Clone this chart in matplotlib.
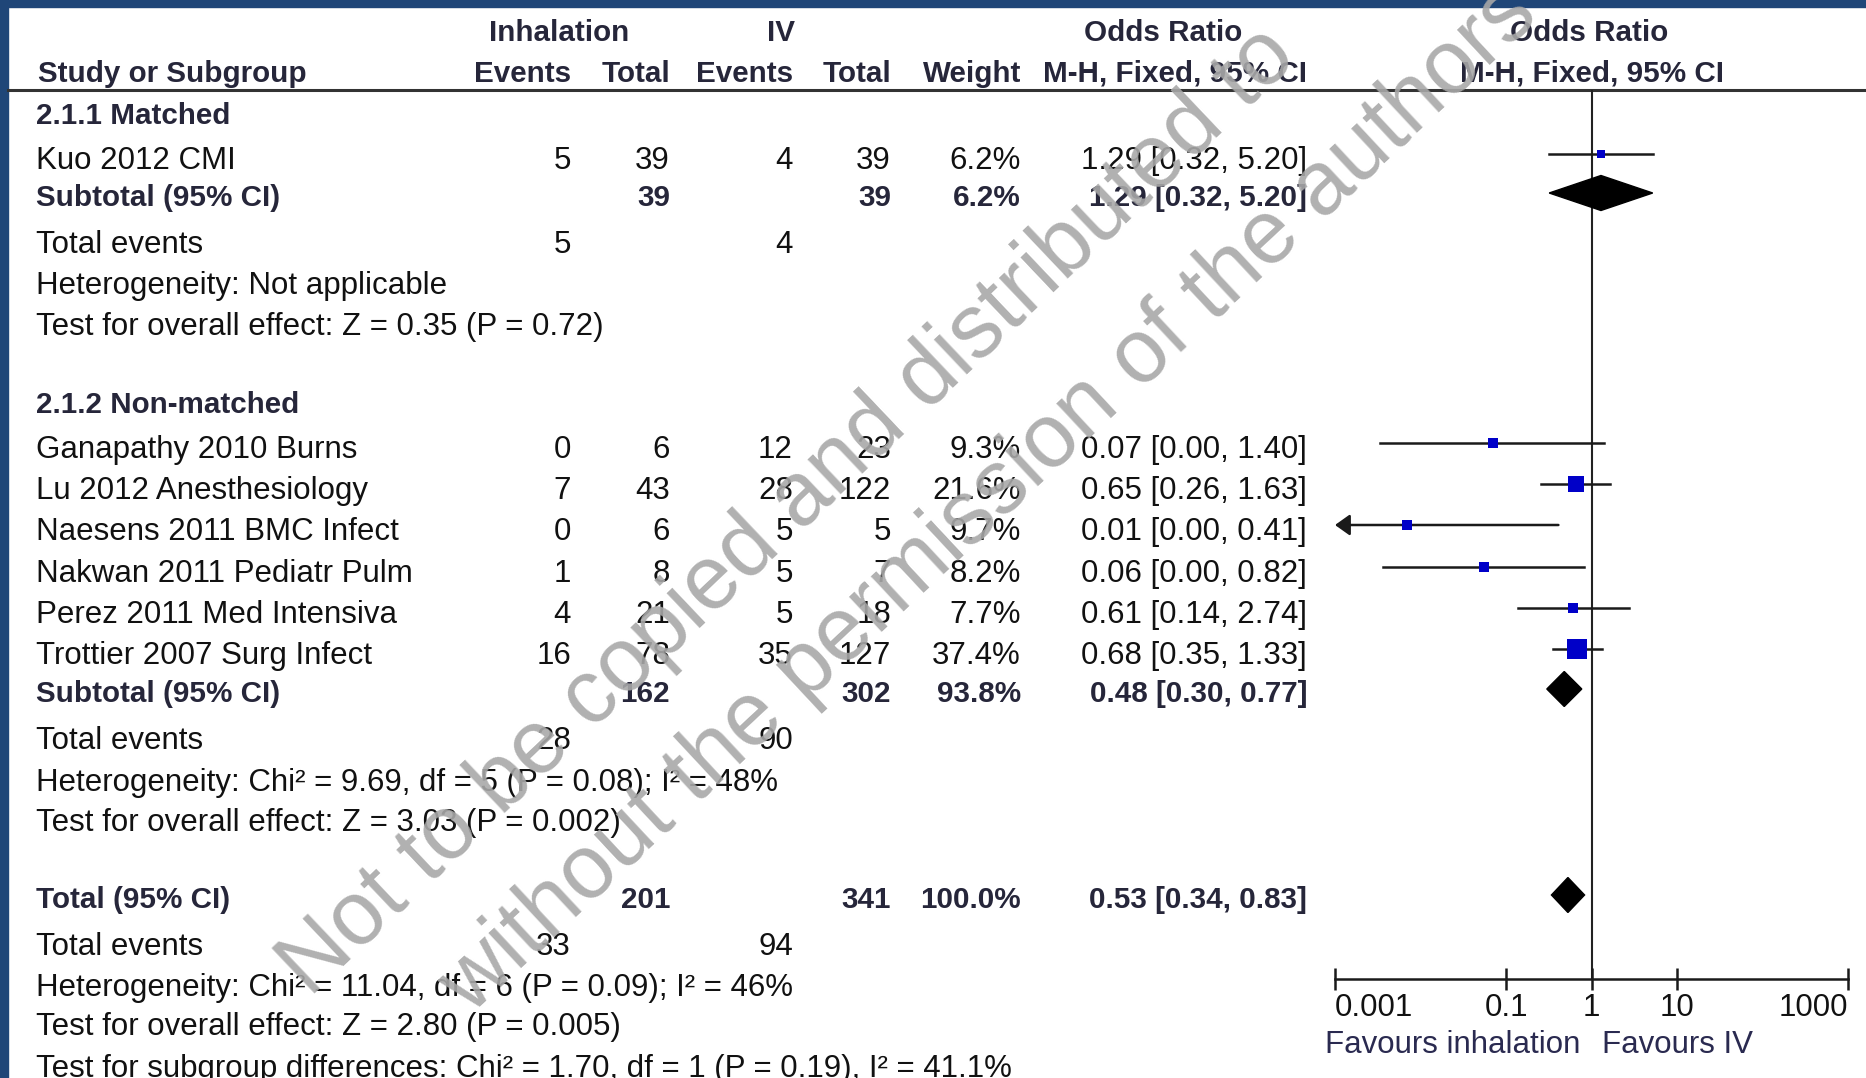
import numpy as np
import matplotlib
matplotlib.use("Agg")
import matplotlib.pyplot as plt
from matplotlib.patches import Polygon, Rectangle

plt.rcParams['font.family'] = ['Liberation Sans', 'DejaVu Sans']

# ---------- data ----------
group1_name = "2.1.1 Matched"
g1_studies = ["Kuo 2012 CMI"]
g1_inh_events = [5]
g1_inh_total = [39]
g1_iv_events = [4]
g1_iv_total = [39]
g1_weight = [6.2]
g1_or = [1.29]
g1_lo = [0.32]
g1_hi = [5.20]
g1_or_plot = [1.29]
g1_lo_plot = [0.32]

group2_name = "2.1.2 Non-matched"
g2_studies = ["Ganapathy 2010 Burns", "Lu 2012 Anesthesiology", "Naesens 2011 BMC Infect",
              "Nakwan 2011 Pediatr Pulm", "Perez 2011 Med Intensiva", "Trottier 2007 Surg Infect"]
g2_inh_events = [0, 7, 0, 1, 4, 16]
g2_inh_total = [6, 43, 6, 8, 21, 78]
g2_iv_events = [12, 28, 5, 5, 5, 35]
g2_iv_total = [23, 122, 5, 7, 18, 127]
g2_weight = [9.3, 21.6, 9.7, 8.2, 7.7, 37.4]
g2_or = [0.07, 0.65, 0.01, 0.06, 0.61, 0.68]
g2_lo = [0.00, 0.26, 0.00, 0.00, 0.14, 0.35]
g2_hi = [1.40, 1.63, 0.41, 0.82, 2.74, 1.33]
# unrounded positions
g2_or_plot = [0.070, 0.65, 0.007, 0.056, 0.61, 0.68]
g2_lo_plot = [0.0034, 0.26, 0.0001, 0.0036, 0.14, 0.35]

sub1 = dict(inh_total=39, iv_total=39, weight="6.2%", est=1.29, lo=0.32, hi=5.20,
            inh_events=5, iv_events=4,
            het="Heterogeneity: Not applicable",
            test="Test for overall effect: Z = 0.35 (P = 0.72)")
sub2 = dict(inh_total=162, iv_total=302, weight="93.8%", est=0.48, lo=0.30, hi=0.77,
            inh_events=28, iv_events=90,
            het="Heterogeneity: Chi\u00b2 = 9.69, df = 5 (P = 0.08); I\u00b2 = 48%",
            test="Test for overall effect: Z = 3.03 (P = 0.002)")
overall = dict(inh_total=201, iv_total=341, weight="100.0%", est=0.53, lo=0.34, hi=0.83,
               inh_events=33, iv_events=94,
               het="Heterogeneity: Chi\u00b2 = 11.04, df = 6 (P = 0.09); I\u00b2 = 46%",
               test="Test for overall effect: Z = 2.80 (P = 0.005)",
               subgrp="Test for subgroup differences: Chi\u00b2 = 1.70, df = 1 (P = 0.19), I\u00b2 = 41.1%")

tick_vals = [0.001, 0.1, 1, 10, 1000]
tick_labels = ["0.001", "0.1", "1", "10", "1000"]

# ---------- layout ----------
W, H = 1866, 1078
fig = plt.figure(figsize=(W / 100, H / 100), dpi=100)
ax = fig.add_axes([0, 0, 1, 1])
ax.set_xlim(0, W)
ax.set_ylim(H, 0)
ax.axis('off')

FS = 22.5
FSB = 21.3
BOLDC = '#26263a'
TXTC = '#111111'
CAP = 11  # half cap height in px

x_name = 36
x_ev1, x_tot1, x_ev2, x_tot2, x_wt, x_ci = 571, 670, 793, 891, 1021, 1307


def t(x, y, s, ha='left', bold=False, color=None, size=None):
    ax.text(x, y + CAP, s, ha=ha, va='baseline',
            fontsize=size or (FSB if bold else FS),
            fontweight='bold' if bold else 'normal',
            color=color or (BOLDC if bold else TXTC), zorder=5)


# frame
ax.add_patch(Rectangle((0, 0), W, 7, color='#1f4678', zorder=1))
ax.add_patch(Rectangle((0, 0), 8, H, color='#1f4678', zorder=1))

# header
t(559, 30, "Inhalation", ha='center', bold=True)
t(781, 30, "IV", ha='center', bold=True)
t(1163, 30, "Odds Ratio", ha='center', bold=True)
t(1589, 30, "Odds Ratio", ha='center', bold=True)
t(38, 71, "Study or Subgroup", bold=True)
for xx, s in [(x_ev1, "Events"), (x_tot1, "Total"), (x_ev2, "Events"), (x_tot2, "Total"),
              (x_wt, "Weight"), (x_ci, "M-H, Fixed, 95% CI")]:
    t(xx, 71, s, ha='right', bold=True)
t(1592, 71, "M-H, Fixed, 95% CI", ha='center', bold=True)
ax.plot([8, W], [90, 90], color='#333333', lw=2.2, zorder=2)


def ci_txt(e, l, h):
    return f"{e:.2f} [{l:.2f}, {h:.2f}]"


# ---------- forest axes ----------
x0, x1, ytop, ybot = 1335, 1848, 90, 979
fax = fig.add_axes([x0 / W, 1 - ybot / H, (x1 - x0) / W, (ybot - ytop) / H])
fax.set_xscale('log')
fax.set_xlim(0.001, 1000)
fax.set_ylim(ybot, ytop)
fax.patch.set_alpha(0)
for sp in ['top', 'right', 'left']:
    fax.spines[sp].set_visible(False)
fax.spines['bottom'].set_linewidth(1.8)
fax.spines['bottom'].set_color('#1a1a1a')
fax.set_yticks([])
fax.set_xticks(tick_vals)
fax.set_xticklabels([])
fax.minorticks_off()
fax.tick_params(axis='x', which='major', direction='inout', length=15.8, width=1.8, color='#1a1a1a')
fax.axvline(1, color='#222222', lw=1.5, zorder=1)

for v, lab, ha in zip(tick_vals, tick_labels, ['left', 'center', 'center', 'center', 'right']):
    fax.text(v, 1005 + CAP, lab, ha=ha, va='baseline', fontsize=FS, color=TXTC)
fax.text(0.75, 1042 + CAP, "Favours inhalation", ha='right', va='baseline', fontsize=FS, color='#2a2a50')
fax.text(1.33, 1042 + CAP, "Favours IV", ha='left', va='baseline', fontsize=FS, color='#2a2a50')


def draw_study(y, est, lo, hi, w):
    ym = y - 4
    if lo < 0.001:
        fax.annotate('', xy=(0.001, ym), xytext=(hi, ym),
                     arrowprops=dict(arrowstyle='-|>,head_length=0.45,head_width=0.32',
                                     mutation_scale=20, lw=1.8, color='#1a1a1a',
                                     shrinkA=0, shrinkB=0), zorder=2)
    else:
        fax.plot([lo, hi], [ym, ym], color='#1a1a1a', lw=1.8, zorder=2)
    side = 3.4 * np.sqrt(w) * 0.72
    fax.scatter([est], [ym], marker='s', s=side ** 2, color='#0000c8', zorder=3, linewidths=0)


def draw_diamond(y, est, lo, hi):
    ym = y - 2
    fax.add_patch(Polygon([(lo, ym), (est, ym - 17.5), (hi, ym), (est, ym + 17.5)],
                          closed=True, color='black', zorder=3))


def draw_group(y_head, name, studies, ie, it, ve, vt, wt, est, lo, hi, est_p, lo_p, y_rows):
    t(x_name, y_head, name, bold=True)
    for i, s in enumerate(studies):
        y = y_rows[i]
        t(x_name, y, s)
        t(x_ev1, y, str(ie[i]), ha='right')
        t(x_tot1, y, str(it[i]), ha='right')
        t(x_ev2, y, str(ve[i]), ha='right')
        t(x_tot2, y, str(vt[i]), ha='right')
        t(x_wt, y, f"{wt[i]:.1f}%", ha='right')
        t(x_ci, y, ci_txt(est[i], lo[i], hi[i]), ha='right')
        draw_study(y, est_p[i], lo_p[i], hi[i], wt[i])


def draw_summary(y, label, d):
    t(x_name, y, label, bold=True)
    t(x_tot1, y, str(d['inh_total']), ha='right', bold=True)
    t(x_tot2, y, str(d['iv_total']), ha='right', bold=True)
    t(x_wt, y, d['weight'], ha='right', bold=True)
    t(x_ci, y, ci_txt(d['est'], d['lo'], d['hi']), ha='right', bold=True)
    draw_diamond(y, d['est'], d['lo'], d['hi'])


def draw_footer(y_rows, d):
    t(x_name, y_rows[0], "Total events")
    t(x_ev1, y_rows[0], str(d['inh_events']), ha='right')
    t(x_ev2, y_rows[0], str(d['iv_events']), ha='right')
    t(x_name, y_rows[1], d['het'])
    t(x_name, y_rows[2], d['test'])


# group 1
draw_group(113, group1_name, g1_studies, g1_inh_events, g1_inh_total, g1_iv_events, g1_iv_total,
           g1_weight, g1_or, g1_lo, g1_hi, g1_or_plot, g1_lo_plot, [158])
draw_summary(195, "Subtotal (95% CI)", sub1)
draw_footer([242, 283, 324], sub1)

# group 2
draw_group(402, group2_name, g2_studies, g2_inh_events, g2_inh_total, g2_iv_events, g2_iv_total,
           g2_weight, g2_or, g2_lo, g2_hi, g2_or_plot, g2_lo_plot,
           [447, 488, 529, 571, 612, 653])
draw_summary(691, "Subtotal (95% CI)", sub2)
draw_footer([738, 780, 820], sub2)

# overall
draw_summary(897, "Total (95% CI)", overall)
draw_footer([944, 985, 1024], overall)
t(x_name, 1066, overall['subgrp'])

# watermark
wm = dict(rotation_mode='anchor', ha='left', va='baseline', fontsize=64.5,
          color='#a8a8a8', alpha=0.9, zorder=10)
ax.text(310, 998, "Not to be copied and distributed to", rotation=43.5, **wm)
ax.text(470, 1016, "without the permission of the authors", rotation=43, **wm)

fig.savefig("out.png", dpi=100)
